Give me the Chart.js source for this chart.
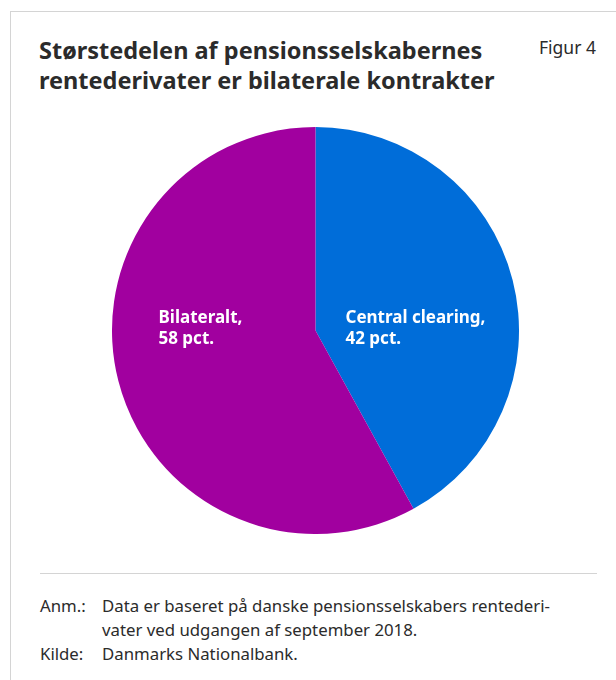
<!DOCTYPE html>
<html>

<head>
  <meta charset="UTF-8" />
  <title>Figur 4</title>
  <script src="https://cdn.jsdelivr.net/npm/chart.js@4.4.1/dist/chart.umd.min.js"></script>
  <style>
    body { margin: 0; width: 616px; height: 680px; background: #fff; position: relative; overflow: hidden;
      font-family: "Noto Sans", sans-serif; color: #2b2b2b; }
    .frame { position: absolute; left: 10px; top: 11px; width: 700px; height: 700px;
      border-top: 1.5px solid #d4d4d4; border-left: 1.5px solid #d4d4d4; }
    h1 { position: absolute; left: 39px; top: 35px; margin: 0; font-size: 23.5px; line-height: 30px; font-weight: 700; }
    .fig { position: absolute; left: 539px; top: 35px; font-size: 17.5px; }
    #wrap { position: absolute; left: 112px; top: 127px; width: 407px; height: 407px; }
    .rule { position: absolute; left: 40px; top: 573px; width: 557px; border-top: 1.5px solid #d4d4d4; }
    .notes { position: absolute; left: 40px; top: 594px; font-size: 16.8px; line-height: 24px; }
    .notes td { padding: 0; vertical-align: top; }
    .notes td:first-child { width: 62px; }
  </style>
</head>

<body>
  <div class="frame"></div>
  <h1>Størstedelen af pensionsselskabernes<br>rentederivater er bilaterale kontrakter</h1>
  <div class="fig">Figur 4</div>
  <div id="wrap"><canvas id="chart" width="407" height="407"></canvas></div>
  <div class="rule"></div>
  <table class="notes" cellspacing="0">
    <tr><td>Anm.:</td><td>Data er baseret på danske pensionsselskabers rentederi-<br>vater ved udgangen af september 2018.</td></tr>
    <tr><td>Kilde:</td><td>Danmarks Nationalbank.</td></tr>
  </table>
  <script>
    const categories = ['Central clearing', 'Bilateralt'];
    const shares = [42, 58];
    const colours = ['#006dd9', '#a1009f'];

    // slice labels sit side by side across the middle of the pie
    const sliceLabels = {
      id: 'sliceLabels',
      afterDatasetsDraw(chart) {
        const arc = chart.getDatasetMeta(0).data[0];
        const ctx = chart.ctx;
        ctx.save();
        ctx.fillStyle = '#fff';
        ctx.font = 'bold 17px "Noto Sans"';
        ctx.textBaseline = 'alphabetic';
        const offsets = [30, -157];
        categories.forEach((name, i) => {
          const x = arc.x + offsets[i];
          ctx.fillText(name + ',', x, arc.y - 8);
          ctx.fillText(shares[i] + ' pct.', x, arc.y + 13);
        });
        ctx.restore();
      }
    };

    new Chart(document.getElementById('chart'), {
      type: 'pie',
      data: {
        labels: categories,
        datasets: [{
          data: shares,
          backgroundColor: colours,
          borderWidth: 0
        }]
      },
      options: {
        responsive: false,
        animation: false,
        plugins: { legend: { display: false }, tooltip: { enabled: false } }
      },
      plugins: [sliceLabels]
    });
  </script>
</body>

</html>
